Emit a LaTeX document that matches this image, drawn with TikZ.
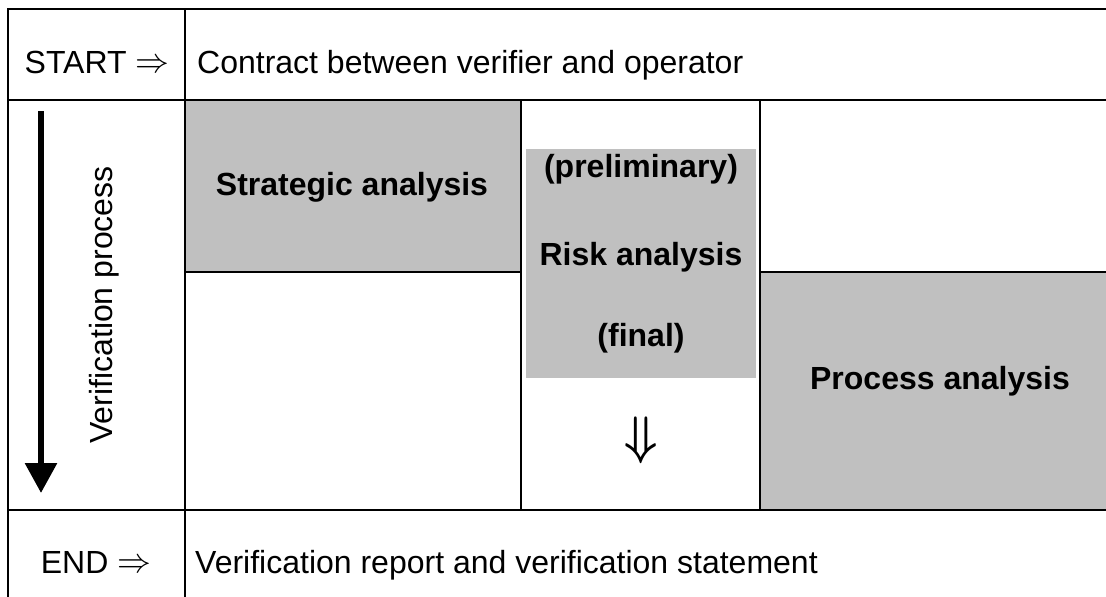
\documentclass[tikz,border=0pt]{standalone}
\usepackage{fontspec}
\setmainfont{Liberation Sans}
\usetikzlibrary{arrows.meta}
\definecolor{boxgray}{HTML}{C0C0C0}
\tikzset{
  grid/.style={line width=2pt, line cap=rect},
  plain/.style={inner sep=0pt, font=\fontsize{32}{38}\selectfont},
  bold/.style={inner sep=0pt, font=\fontsize{32}{38}\selectfont\bfseries},
  shade/.style={fill=boxgray, draw=none},
}
\newcommand{\bigRight}{\raisebox{0.5pt}{\scalebox{1.36}[1.4]{$\Rightarrow$}}}
\begin{document}
\begin{tikzpicture}[x=1pt,y=-1pt]
\useasboundingbox (0,0) rectangle (1106,597);
\fill[white] (0,0) rectangle (1106,597);
% grey boxes
\path[shade] (185,100) rectangle (521,272);
\path[shade] (526,149) rectangle (756,378);
\path[shade] (760,272) rectangle (1110,510);
% table lines
\draw[grid] (8,9) -- (1110,9);
\draw[grid] (8,9) -- (8,600);
\draw[grid] (8,100) -- (1110,100);
\draw[grid] (8,510) -- (1110,510);
\draw[grid] (185,9) -- (185,600);
\draw[grid] (521,100) -- (521,510);
\draw[grid] (760,100) -- (760,510);
\draw[grid] (185,272) -- (521,272);
\draw[grid] (760,272) -- (1110,272);
% texts
\node[plain, anchor=base] (start) at (97,73) {START \bigRight};
\node[plain, anchor=base west] (contract) at (197,73) {Contract between verifier and operator};
\node[plain, anchor=base] (end) at (96,573) {END \bigRight};
\node[plain, anchor=base west] (report) at (195,573) {Verification report and verification statement};
\node[bold, anchor=base] (strategic) at (352,195) {Strategic analysis};
\node[bold, anchor=base] (prelim) at (641,177) {(preliminary)};
\node[bold, anchor=base] (risk) at (641,265) {Risk analysis};
\node[bold, anchor=base] (final) at (641,346) {(final)};
\node[bold, anchor=base] (process) at (940,389) {Process analysis};
\node[plain] (down) at (641,440) {\scalebox{1.9}[2.12]{\boldmath$\Downarrow$}};
\node[plain, rotate=90, anchor=base] (vp) at (112,305) {Verification process};
% process arrow
\coordinate (atop) at (41,111);
\coordinate (abot) at (41,493);
\draw[line width=6pt, -{Triangle[width=31pt,length=30pt]}] (atop) -- (abot);
\end{tikzpicture}
\end{document}
